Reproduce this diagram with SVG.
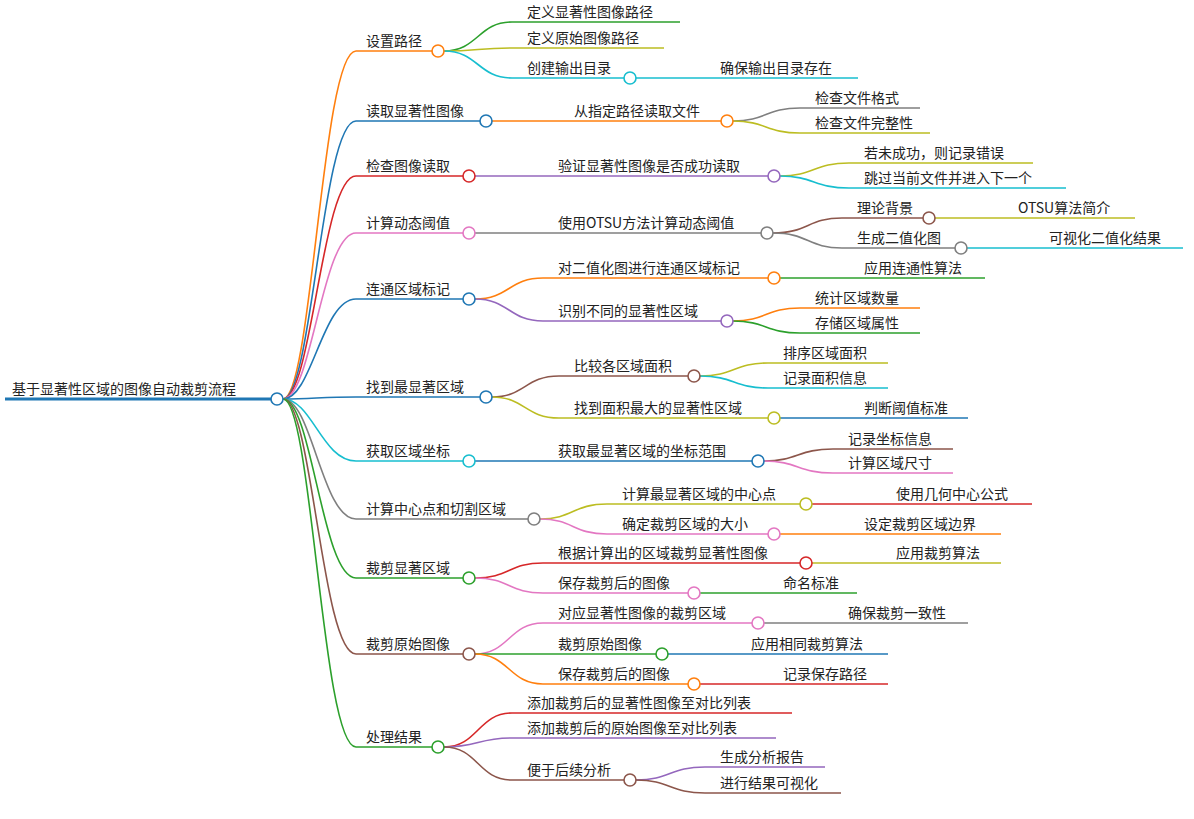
<svg xmlns="http://www.w3.org/2000/svg" width="1194" height="819" viewBox="0 0 1194 819">
<style>
text{font-family:"Noto Sans CJK SC","Noto Sans",sans-serif;font-size:14px;fill:#222}
path{fill:none;stroke-width:1.6}
circle{fill:#fff;stroke-width:1.6}
.o{stroke:#ff7f0e}.b{stroke:#1f77b4}.r{stroke:#d62728}.p{stroke:#e377c2}.c{stroke:#17becf}.g{stroke:#2ca02c}.gr{stroke:#7f7f7f}.br{stroke:#8c564b}.y{stroke:#bcbd22}.pu{stroke:#9467bd}
</style>
<g id="connectors">
<path class="b" d="M5,399 H271" style="stroke-width:3"/>
<path class="o" d="M283,399 C312,399 322,51 356,51 H432"/>
<path class="b" d="M283,399 C312,399 322,121 356,121 H480"/>
<path class="r" d="M283,399 C312,399 322,176 356,176 H463"/>
<path class="p" d="M283,399 C312,399 322,233 356,233 H463"/>
<path class="b" d="M283,399 C312,399 322,299 356,299 H463"/>
<path class="b" d="M283,399 C312,399 322,397 356,397 H480"/>
<path class="c" d="M283,399 C312,399 322,461 356,461 H463"/>
<path class="gr" d="M283,399 C312,399 322,519 356,519 H528"/>
<path class="g" d="M283,399 C312,399 322,578 356,578 H463"/>
<path class="br" d="M283,399 C312,399 322,654 356,654 H463"/>
<path class="g" d="M283,399 C312,399 322,747 356,747 H432"/>
<path class="g" d="M444,51 C478,51 478,22 512,22 H680"/>
<path class="y" d="M444,51 C478,51 478,48 512,48 H664"/>
<path class="c" d="M444,51 C478,51 478,78 512,78 H624"/>
<path class="c" d="M636,78 H858"/>
<path class="o" d="M492,121 H721"/>
<path class="gr" d="M733,121 C766,121 766,108 800,108 H920"/>
<path class="y" d="M733,121 C766,121 766,133 800,133 H930"/>
<path class="pu" d="M475,176 H768"/>
<path class="y" d="M780,176 C814,176 814,163 849,163 H1033"/>
<path class="c" d="M780,176 C814,176 814,188 849,188 H1066"/>
<path class="gr" d="M475,233 H761"/>
<path class="br" d="M773,233 C808,233 808,218 842,218 H923"/>
<path class="y" d="M935,218 H1135"/>
<path class="gr" d="M773,233 C808,233 808,248 842,248 H955"/>
<path class="c" d="M967,248 H1183"/>
<path class="o" d="M475,299 C509,299 509,278 543,278 H768"/>
<path class="g" d="M780,278 H985"/>
<path class="pu" d="M475,299 C509,299 509,321 543,321 H721"/>
<path class="o" d="M733,321 C766,321 766,308 800,308 H920"/>
<path class="g" d="M733,321 C766,321 766,333 800,333 H920"/>
<path class="br" d="M492,397 C525,397 525,376 559,376 H688"/>
<path class="y" d="M700,376 C734,376 734,363 768,363 H888"/>
<path class="c" d="M700,376 C734,376 734,388 768,388 H888"/>
<path class="y" d="M492,397 C525,397 525,418 559,418 H768"/>
<path class="b" d="M780,418 H968"/>
<path class="b" d="M475,461 H752"/>
<path class="br" d="M764,461 C798,461 798,449 833,449 H953"/>
<path class="p" d="M764,461 C798,461 798,473 833,473 H953"/>
<path class="y" d="M540,519 C573,519 573,504 607,504 H800"/>
<path class="r" d="M812,504 H1032"/>
<path class="p" d="M540,519 C573,519 573,534 607,534 H768"/>
<path class="o" d="M780,534 H1001"/>
<path class="r" d="M475,578 C509,578 509,563 543,563 H800"/>
<path class="y" d="M812,563 H1001"/>
<path class="p" d="M475,578 C509,578 509,593 543,593 H688"/>
<path class="g" d="M700,593 H857"/>
<path class="p" d="M475,654 C509,654 509,623 543,623 H752"/>
<path class="gr" d="M764,623 H968"/>
<path class="g" d="M475,654 H656"/>
<path class="b" d="M668,654 H888"/>
<path class="o" d="M475,654 C509,654 509,684 543,684 H688"/>
<path class="r" d="M700,684 H888"/>
<path class="r" d="M444,747 C478,747 478,713 512,713 H792"/>
<path class="pu" d="M444,747 C478,747 478,738 512,738 H776"/>
<path class="br" d="M444,747 C478,747 478,780 512,780 H624"/>
<path class="pu" d="M636,780 C670,780 670,767 705,767 H825"/>
<path class="br" d="M636,780 C670,780 670,793 705,793 H841"/>
</g>
<g id="root"><text x="12" y="394">基于显著性区域的图像自动裁剪流程</text><circle class="b" cx="277" cy="399" r="6"/></g>
<g id="n1"><text x="366" y="46">设置路径</text><circle class="o" cx="438" cy="51" r="6"/></g>
<g id="n1a"><text x="527" y="17">定义显著性图像路径</text></g>
<g id="n1b"><text x="527" y="43">定义原始图像路径</text></g>
<g id="n1c"><text x="527" y="73">创建输出目录</text><circle class="c" cx="630" cy="78" r="6"/></g>
<g id="n1c1"><text x="720" y="73">确保输出目录存在</text></g>
<g id="n2"><text x="366" y="116">读取显著性图像</text><circle class="b" cx="486" cy="121" r="6"/></g>
<g id="n2a"><text x="574" y="116">从指定路径读取文件</text><circle class="o" cx="727" cy="121" r="6"/></g>
<g id="n2a1"><text x="815" y="103">检查文件格式</text></g>
<g id="n2a2"><text x="815" y="128">检查文件完整性</text></g>
<g id="n3"><text x="366" y="171">检查图像读取</text><circle class="r" cx="469" cy="176" r="6"/></g>
<g id="n3a"><text x="558" y="171">验证显著性图像是否成功读取</text><circle class="pu" cx="774" cy="176" r="6"/></g>
<g id="n3a1"><text x="864" y="158">若未成功，则记录错误</text></g>
<g id="n3a2"><text x="864" y="183">跳过当前文件并进入下一个</text></g>
<g id="n4"><text x="366" y="228">计算动态阈值</text><circle class="p" cx="469" cy="233" r="6"/></g>
<g id="n4a"><text x="558" y="228">使用OTSU方法计算动态阈值</text><circle class="gr" cx="767" cy="233" r="6"/></g>
<g id="n4a1"><text x="857" y="213">理论背景</text><circle class="br" cx="929" cy="218" r="6"/></g>
<g id="n4a1a"><text x="1018" y="213">OTSU算法简介</text></g>
<g id="n4a2"><text x="857" y="243">生成二值化图</text><circle class="gr" cx="961" cy="248" r="6"/></g>
<g id="n4a2a"><text x="1049" y="243">可视化二值化结果</text></g>
<g id="n5"><text x="366" y="294">连通区域标记</text><circle class="b" cx="469" cy="299" r="6"/></g>
<g id="n5a"><text x="558" y="273">对二值化图进行连通区域标记</text><circle class="o" cx="774" cy="278" r="6"/></g>
<g id="n5a1"><text x="864" y="273">应用连通性算法</text></g>
<g id="n5b"><text x="558" y="316">识别不同的显著性区域</text><circle class="pu" cx="727" cy="321" r="6"/></g>
<g id="n5b1"><text x="815" y="303">统计区域数量</text></g>
<g id="n5b2"><text x="815" y="328">存储区域属性</text></g>
<g id="n6"><text x="366" y="392">找到最显著区域</text><circle class="b" cx="486" cy="397" r="6"/></g>
<g id="n6a"><text x="574" y="371">比较各区域面积</text><circle class="br" cx="694" cy="376" r="6"/></g>
<g id="n6a1"><text x="783" y="358">排序区域面积</text></g>
<g id="n6a2"><text x="783" y="383">记录面积信息</text></g>
<g id="n6b"><text x="574" y="413">找到面积最大的显著性区域</text><circle class="y" cx="774" cy="418" r="6"/></g>
<g id="n6b1"><text x="864" y="413">判断阈值标准</text></g>
<g id="n7"><text x="366" y="456">获取区域坐标</text><circle class="c" cx="469" cy="461" r="6"/></g>
<g id="n7a"><text x="558" y="456">获取最显著区域的坐标范围</text><circle class="b" cx="758" cy="461" r="6"/></g>
<g id="n7a1"><text x="848" y="444">记录坐标信息</text></g>
<g id="n7a2"><text x="848" y="468">计算区域尺寸</text></g>
<g id="n8"><text x="366" y="514">计算中心点和切割区域</text><circle class="gr" cx="534" cy="519" r="6"/></g>
<g id="n8a"><text x="622" y="499">计算最显著区域的中心点</text><circle class="y" cx="806" cy="504" r="6"/></g>
<g id="n8a1"><text x="896" y="499">使用几何中心公式</text></g>
<g id="n8b"><text x="622" y="529">确定裁剪区域的大小</text><circle class="p" cx="774" cy="534" r="6"/></g>
<g id="n8b1"><text x="864" y="529">设定裁剪区域边界</text></g>
<g id="n9"><text x="366" y="573">裁剪显著区域</text><circle class="g" cx="469" cy="578" r="6"/></g>
<g id="n9a"><text x="558" y="558">根据计算出的区域裁剪显著性图像</text><circle class="r" cx="806" cy="563" r="6"/></g>
<g id="n9a1"><text x="896" y="558">应用裁剪算法</text></g>
<g id="n9b"><text x="558" y="588">保存裁剪后的图像</text><circle class="p" cx="694" cy="593" r="6"/></g>
<g id="n9b1"><text x="783" y="588">命名标准</text></g>
<g id="n10"><text x="366" y="649">裁剪原始图像</text><circle class="br" cx="469" cy="654" r="6"/></g>
<g id="n10a"><text x="558" y="618">对应显著性图像的裁剪区域</text><circle class="p" cx="758" cy="623" r="6"/></g>
<g id="n10a1"><text x="848" y="618">确保裁剪一致性</text></g>
<g id="n10b"><text x="558" y="649">裁剪原始图像</text><circle class="g" cx="662" cy="654" r="6"/></g>
<g id="n10b1"><text x="751" y="649">应用相同裁剪算法</text></g>
<g id="n10c"><text x="558" y="679">保存裁剪后的图像</text><circle class="o" cx="694" cy="684" r="6"/></g>
<g id="n10c1"><text x="783" y="679">记录保存路径</text></g>
<g id="n11"><text x="366" y="742">处理结果</text><circle class="g" cx="438" cy="747" r="6"/></g>
<g id="n11a"><text x="527" y="708">添加裁剪后的显著性图像至对比列表</text></g>
<g id="n11b"><text x="527" y="733">添加裁剪后的原始图像至对比列表</text></g>
<g id="n11c"><text x="527" y="775">便于后续分析</text><circle class="br" cx="630" cy="780" r="6"/></g>
<g id="n11c1"><text x="720" y="762">生成分析报告</text></g>
<g id="n11c2"><text x="720" y="788">进行结果可视化</text></g>
</svg>
